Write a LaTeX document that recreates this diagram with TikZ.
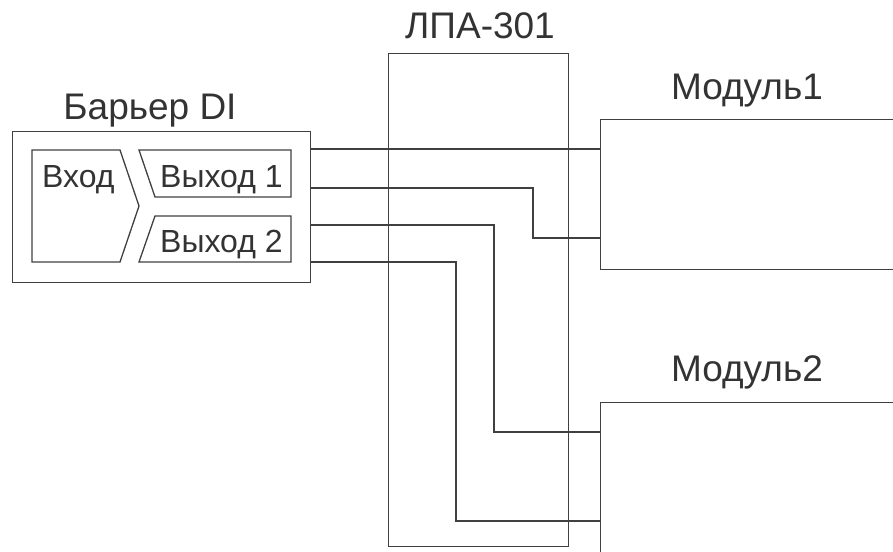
\documentclass[tikz,border=0pt]{standalone}
\usepackage{fontspec}
\setmainfont{Liberation Sans}
\begin{document}
\begin{tikzpicture}[x=1pt,y=-1pt,
  ln/.style={draw=black!75,line width=1.3pt},
  box/.style={ln,rectangle,inner sep=0pt,anchor=north west},
  wire/.style={draw=black!75,line width=1.2pt},
  big/.style={font=\fontsize{37}{40}\selectfont,text=black!80,inner sep=0pt,anchor=base},
  small/.style={font=\fontsize{32}{36}\selectfont,text=black!80,inner sep=0pt,anchor=base west}]
\useasboundingbox (0,0) rectangle (893,551);
\clip (0,0) rectangle (893,551);
% boxes
\node[box,minimum width=298pt,minimum height=151pt] (bar) at (12,131) {};
\node[box,minimum width=180pt,minimum height=493pt] (lpa) at (388,53) {};
\node[box,minimum width=320pt,minimum height=150pt] (m1) at (600,119) {};
\node[box,minimum width=320pt,minimum height=170pt] (m2) at (600,402) {};
% titles
\node[big] (tbar) at (150,119) {Барьер DI};
\node[big] (tlpa) at (480,39) {ЛПА-301};
\node[big] (tm1) at (747,99) {Модуль1};
\node[big] (tm2) at (747,381) {Модуль2};
% inner shapes
\draw[ln] (32,150) -- (120,150) -- (139,206) -- (120,262) -- (32,262) -- cycle;
\draw[ln] (139,150) -- (291,150) -- (291,197) -- (155,197) -- cycle;
\draw[ln] (155,216) -- (291,216) -- (291,262) -- (139,262) -- cycle;
\node[small] (tin) at (42,187) {Вход};
\node[small] (tout1) at (160,187) {Выход 1};
\node[small] (tout2) at (160,252) {Выход 2};
% wires
\coordinate (w1) at (bar.east |- 0,149);
\coordinate (w2) at (bar.east |- 0,188);
\coordinate (w3) at (bar.east |- 0,225);
\coordinate (w4) at (bar.east |- 0,262);
\draw[wire] (w1) -- (m1.west |- w1);
\draw[wire] (w2) -- (533,188) -- (533,238) -- (m1.west |- 0,238);
\draw[wire] (w3) -- (494,225) -- (494,432) -- (m2.west |- 0,432);
\draw[wire] (w4) -- (456,262) -- (456,521) -- (m2.west |- 0,521);
\end{tikzpicture}
\end{document}
